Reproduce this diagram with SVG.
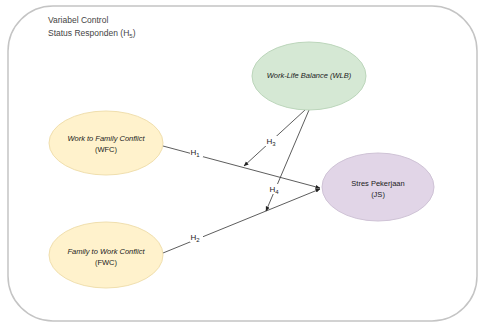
<svg xmlns="http://www.w3.org/2000/svg" width="479" height="324" viewBox="0 0 479 324">
<style>
.t{font-family:"Liberation Sans",Arial,sans-serif;font-size:7.5px;fill:#1a1a1a;text-anchor:middle}
.i{font-style:italic}
.ttl{font-family:"Liberation Sans",Arial,sans-serif;font-size:8.5px;fill:#444}
.c{stroke:#333;stroke-width:0.8;fill:none}
.lb{font-family:"Liberation Sans",Arial,sans-serif;font-size:8px;fill:#222;text-anchor:middle}
.bg{fill:#fff}
</style>
<defs>
<marker id="a" viewBox="0 0 10 10" refX="9" refY="5" markerWidth="5" markerHeight="5" orient="auto" markerUnits="userSpaceOnUse">
<path d="M0,1 L10,5 L0,9 Z" fill="#222"/>
</marker>
</defs>
<rect x="8" y="6" width="469" height="315" rx="45" ry="45" fill="#fff" stroke="#c4c4c4" stroke-width="1.5"/>
<g id="title">
<text class="ttl" x="48" y="23">Variabel Control</text>
<text class="ttl" x="48" y="36">Status Responden (H<tspan font-size="6" dy="2">5</tspan><tspan dy="-2">)</tspan></text>
</g>
<g id="connectors">
<line class="c" x1="163" y1="146" x2="320" y2="188" marker-end="url(#a)"/>
<line class="c" x1="163" y1="253" x2="320" y2="189" marker-end="url(#a)"/>
<line class="c" x1="305" y1="110" x2="244" y2="166" marker-end="url(#a)"/>
<line class="c" x1="309" y1="110" x2="266" y2="211" marker-end="url(#a)"/>
<rect class="bg" x="190" y="147" width="13" height="10"/>
<text class="lb" x="195" y="155">H<tspan font-size="6" dy="2">1</tspan></text>
<rect class="bg" x="190" y="232" width="13" height="10"/>
<text class="lb" x="195" y="240">H<tspan font-size="6" dy="2">2</tspan></text>
<rect class="bg" x="265" y="136" width="13" height="10"/>
<text class="lb" x="271" y="144">H<tspan font-size="6" dy="2">3</tspan></text>
<rect class="bg" x="268" y="184" width="13" height="10"/>
<text class="lb" x="274" y="192">H<tspan font-size="6" dy="2">4</tspan></text>
</g>
<g id="wlb">
<ellipse cx="309" cy="76" rx="57" ry="34" fill="#d5e8d4" stroke="#bcd6bb" stroke-width="1"/>
<text class="t i" x="309" y="78">Work-Life Balance (WLB)</text>
</g>
<g id="wfc">
<ellipse cx="106" cy="143" rx="57" ry="32" fill="#fff2cc" stroke="#f0dfae" stroke-width="1"/>
<text class="t i" x="106" y="141">Work to Family Conflict</text>
<text class="t" x="106" y="152">(WFC)</text>
</g>
<g id="fwc">
<ellipse cx="106" cy="255" rx="57" ry="33" fill="#fff2cc" stroke="#f0dfae" stroke-width="1"/>
<text class="t i" x="106" y="254">Family to Work Conflict</text>
<text class="t" x="106" y="265">(FWC)</text>
</g>
<g id="js">
<ellipse cx="378" cy="187" rx="56" ry="34" fill="#e1d5e7" stroke="#cfc3d6" stroke-width="1"/>
<text class="t" x="378" y="186">Stres Pekerjaan</text>
<text class="t" x="378" y="197">(JS)</text>
</g>
</svg>
